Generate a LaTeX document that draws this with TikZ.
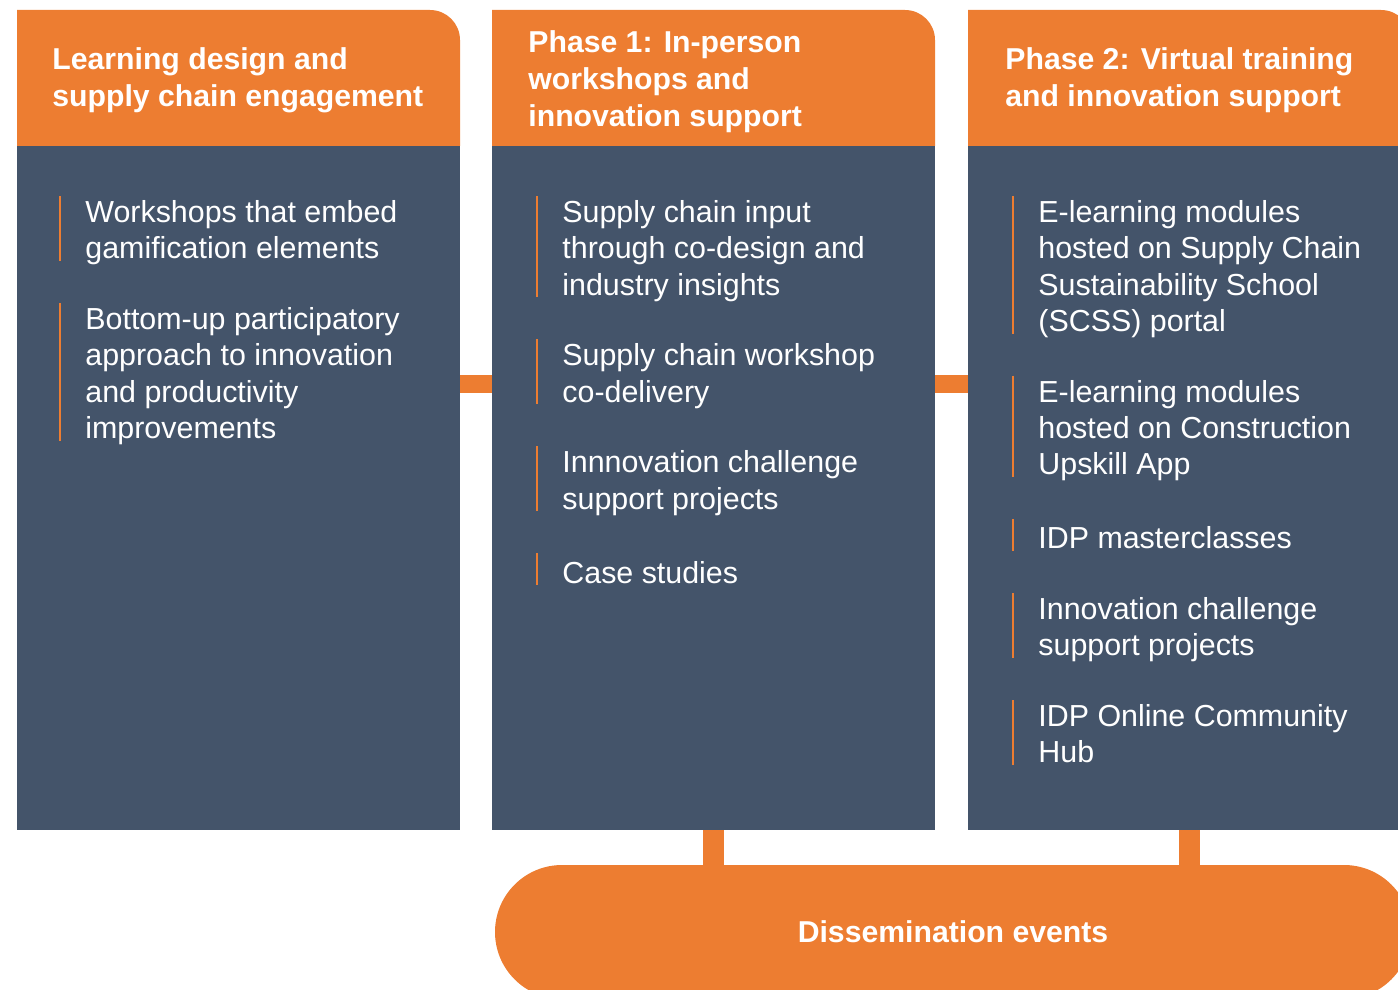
\documentclass[tikz,border=0pt]{standalone}
\usepackage{fontspec}
\setmainfont{Liberation Sans}
\usetikzlibrary{positioning}

\definecolor{brandorange}{HTML}{ED7D31}
\definecolor{slate}{HTML}{44546A}
\newcommand{\itemfont}{\fontsize{15.2}{18.15}\selectfont}
\newcommand{\headfont}{\bfseries\fontsize{15.1}{18.5}\selectfont}

\tikzset{
  body/.style={fill=slate, minimum width=221.5pt, minimum height=342pt, inner sep=0pt},
  title/.style={anchor=north west, inner sep=0pt, align=left, text=white, font=\headfont,
    execute at begin node=\strut, execute at end node=\strut},
  item/.style={title, font=\itemfont},
  bar/.style={draw=brandorange, line width=1pt, shorten <=-2pt, shorten >=4.5pt},
  link/.style={draw=brandorange, line width=9pt},
  pill/.style={fill=brandorange, rounded corners=33.5pt, minimum width=458pt,
    minimum height=67pt, inner sep=0pt, text=white, font=\headfont}
}

\begin{document}
\begin{tikzpicture}[x=0.5pt,y=-0.5pt]
    \useasboundingbox (0,0) rectangle (1398,990);
    % columns
    \node[body] (b1) at (238.5,488) {};
    \node[body] (b2) at (713.5,488) {};
    \node[body] (b3) at (1189.5,488) {};
    \foreach \x in {17,492,968}
        \fill[brandorange] (\x,146) -- (\x,10) -- ({\x+413},10)
            arc[start angle=90, end angle=0, radius=15pt] -- ({\x+443},146) -- cycle;
    \node[title] (t1) at (52,47) {Learning design and\\supply chain engagement};
    \node[title] (t2) at (528,30) {Phase 1: In-person\\workshops and\\innovation support};
    \node[title] (t3) at (1005,47) {Phase 2: Virtual training\\and innovation support};

    % bullets
    \node[item] (i11) at (85,200) {Workshops that embed\\gamification elements};
    \node[item] (i12) at ([yshift=-18.5pt]i11.south west) {Bottom-up participatory\\approach to innovation\\and productivity\\improvements};

    \node[item] (i21) at (562,200) {Supply chain input\\through co-design and\\industry insights};
    \node[item] (i22) at ([yshift=-18.5pt]i21.south west) {Supply chain workshop\\co-delivery};
    \node[item] (i23) at ([yshift=-18.5pt]i22.south west) {Innnovation challenge\\support projects};
    \node[item] (i24) at ([yshift=-18.5pt]i23.south west) {Case studies};

    \node[item] (i31) at (1038,200) {E-learning modules\\hosted on Supply Chain\\Sustainability School\\(SCSS) portal};
    \node[item] (i32) at ([yshift=-18.5pt]i31.south west) {E-learning modules\\hosted on Construction\\Upskill App};
    \node[item] (i33) at ([yshift=-18.5pt]i32.south west) {IDP masterclasses};
    \node[item] (i34) at ([yshift=-18.5pt]i33.south west) {Innovation challenge\\support projects};
    \node[item] (i35) at ([yshift=-18.5pt]i34.south west) {IDP Online Community\\Hub};

    \foreach \n in {i11,i12,i21,i22,i23,i24,i31,i32,i33,i34,i35}
        \draw[bar] ([xshift=-12.5pt]\n.north west) -- ([xshift=-12.5pt]\n.south west);

    % events
    \node[pill] (ev) at (953,932) {Dissemination events};

    \draw[link] (b1.east |- 0,384) -- (b2.west |- 0,384);
    \draw[link] (b2.east |- 0,384) -- (b3.west |- 0,384);
    \draw[link, line width=10.5pt] (b2.south) -- (b2.south |- ev.north);
    \draw[link, line width=10.5pt] (b3.south) -- (b3.south |- ev.north);
\end{tikzpicture}
\end{document}
